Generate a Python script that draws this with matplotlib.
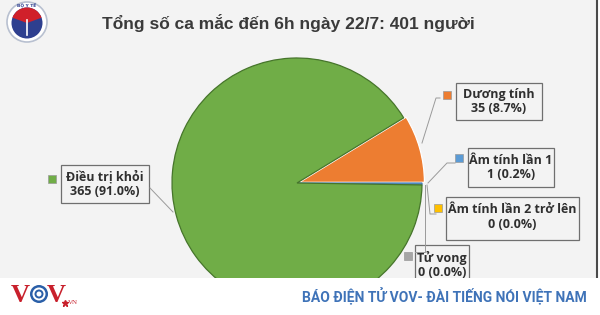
import matplotlib.pyplot as plt
from matplotlib.patches import Rectangle, Circle, Wedge

# data
labels = ["Dương tính", "Âm tính lần 1", "Âm tính lần 2 trở lên", "Tử vong", "Điều trị khỏi"]
values = [35, 1, 0, 0, 365]
colors = ["#ED7D31", "#5B9BD5", "#FFC000", "#A5A5A5", "#70AD47"]
title = "Tổng số ca mắc đến 6h ngày 22/7: 401 người"
footer = "BÁO ĐIỆN TỬ VOV- ĐÀI TIẾNG NÓI VIỆT NAM"

total = sum(values)

# layout (pixels, origin top-left)
W, H = 600, 315
cx, cy, R = 297, 183, 125
lim = 1.15
boxes = [(456, 83, 542, 120), (468, 148, 554, 187), (446, 197, 579, 240),
         (415, 245, 469, 290), (61, 165, 149, 203)]
keys = [(447, 95), (459, 158), (438, 208), (408, 256), (52, 179)]
leaders = [[(440, 98), (436, 98), (422, 143)],
           [(455, 163), (447, 163), (428, 183)],
           [(436, 214), (430, 214), (427, 185)],
           [(415, 252), (425, 252), (425, 185)],
           [(150, 188), (173, 212)]]

fig = plt.figure(figsize=(6, 3.15), dpi=100)
fig.patch.set_facecolor("white")

bg = fig.add_axes([0, 0, 1, 1])
bg.set_xlim(0, W)
bg.set_ylim(H, 0)
bg.axis("off")
bg.add_patch(Rectangle((0, 0), 597, 278, facecolor="#f3f3f3", edgecolor="none"))
bg.plot([597, 597], [0, 278], color="#4a4a4a", lw=1.5)

# ministry logo
bg.add_patch(Circle((27, 22), 20, facecolor="white", edgecolor="#b8c0d0", lw=1.2))
bg.add_patch(Circle((27, 23), 15.5, facecolor="#2e3f8f", edgecolor="none"))
bg.add_patch(Wedge((27, 23), 15.5, 200, 340, facecolor="#d0202a", edgecolor="none"))
bg.plot([27, 27], [20, 35], color="white", lw=1.2)
bg.text(27, 5.5, "BỘ Y TẾ", fontsize=3.2, ha="center", va="center", color="#2e3f8f",
        family=["DejaVu Sans"], fontweight="bold")

bg.text(288, 23, title, fontsize=12.5, ha="center", va="center", color="#3a3a3a",
        family=["Liberation Sans", "DejaVu Sans"], fontweight="bold")

# pie
s = lim * R
pie_ax = fig.add_axes([(cx - s) / W, (H - cy - s) / H, 2 * s / W, 2 * s / H], zorder=1)
wedges, _ = pie_ax.pie(values, colors=colors, startangle=360 * values[0] / total,
                       counterclock=False, explode=[0.02, 0, 0, 0, 0],
                       wedgeprops=dict(linewidth=0.9))
wedges[0].set_edgecolor("white")
wedges[1].set_edgecolor("#4a7fb5")
wedges[4].set_edgecolor("#46752b")
pie_ax.set_xlim(-lim, lim)
pie_ax.set_ylim(-lim, lim)
pie_ax.axis("off")

# data labels
ann = fig.add_axes([0, 0, 1, 1], zorder=3)
ann.set_xlim(0, W)
ann.set_ylim(H, 0)
ann.axis("off")
for name, v, c, (x0, y0, x1, y1), (kx, ky), pts in zip(labels, values, colors, boxes, keys, leaders):
    xs = [p[0] for p in pts]
    ys = [p[1] for p in pts]
    ann.plot(xs, ys, color="#9a9a9a", lw=0.7)
    ann.add_patch(Rectangle((x0, y0), x1 - x0, y1 - y0, facecolor="#f3f3f3",
                            edgecolor="#6f6f6f", lw=0.9))
    ann.add_patch(Rectangle((kx - 4, ky - 4), 8, 8, facecolor=c, edgecolor="#9a9a9a", lw=0.5))
    txt = f"{name}\n{v} ({100 * v / total:.1f}%)"
    ann.text((x0 + x1) / 2, y0 + 20 if y1 - y0 > 40 else (y0 + y1) / 2, txt,
             fontsize=9, ha="center", va="center", color="#2f2f2f",
             family=["Open Sans", "DejaVu Sans"], fontweight="bold", linespacing=1.15)

# footer band
band = fig.add_axes([0, 0, 1, 37 / H], zorder=5)
band.set_xlim(0, W)
band.set_ylim(37, 0)
band.axis("off")
band.add_patch(Rectangle((0, 0), W, 37, facecolor="white", edgecolor="none"))
band.text(20, 17, "V", fontsize=19, ha="center", va="center", color="#c8202c",
          family=["Liberation Serif"], fontweight="bold")
for r, col in [(9, "#2a5fa8"), (6.5, "white"), (4.5, "#2a5fa8"), (2.5, "white")]:
    band.add_patch(Circle((39, 16), r, facecolor=col, edgecolor="none"))
band.text(56, 17, "V", fontsize=19, ha="center", va="center", color="#c8202c",
          family=["Liberation Serif"], fontweight="bold")
band.plot([65], [25], marker="*", color="#c8202c", markersize=5)
band.text(68, 25, "VN", fontsize=5, ha="left", va="center", color="#c8202c",
          family=["Liberation Serif"])
band.text(587, 17, footer, fontsize=10, ha="right", va="center", color="#3f73b8",
          family=["Roboto", "DejaVu Sans"], fontweight="bold")

fig.savefig("out.png", dpi=100)
